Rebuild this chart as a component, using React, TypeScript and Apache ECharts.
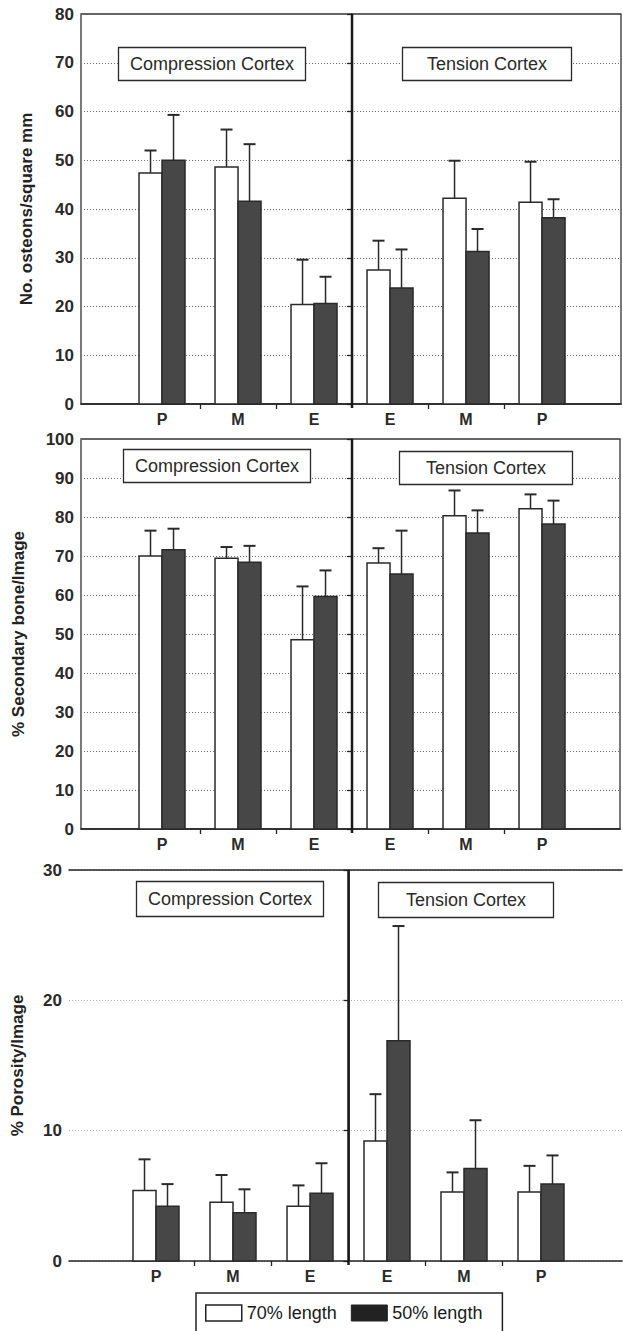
import React, { useEffect, useRef } from "react";
import * as echarts from "echarts";

// Category slots (axis units) and their labels
const sitePositions = [-2.5, -1.5, -0.5, 0.5, 1.5, 2.5];
const siteLabels = ["P", "M", "E", "E", "M", "P"];
const regionTitles = ["Compression Cortex", "Tension Cortex"];
const legendNames = ["70% length", "50% length"];

// Panel 1: No. osteons / square mm
const osteons70 = [47.4, 48.6, 20.4, 27.5, 42.2, 41.4];
const osteons70Sd = [4.6, 7.7, 9.2, 6.0, 7.7, 8.3];
const osteons50 = [50.0, 41.6, 20.6, 23.8, 31.3, 38.2];
const osteons50Sd = [9.3, 11.7, 5.5, 7.9, 4.6, 3.8];

// Panel 2: % Secondary bone / Image
const secondary70 = [70.0, 69.4, 48.5, 68.2, 80.3, 82.1];
const secondary70Sd = [6.5, 2.9, 13.7, 3.8, 6.5, 3.7];
const secondary50 = [71.6, 68.4, 59.6, 65.4, 75.9, 78.2];
const secondary50Sd = [5.4, 4.2, 6.7, 11.1, 5.8, 6.0];

// Panel 3: % Porosity / Image
const porosity70 = [5.4, 4.5, 4.2, 9.2, 5.3, 5.3];
const porosity70Sd = [2.4, 2.1, 1.6, 3.6, 1.5, 2.0];
const porosity50 = [4.2, 3.7, 5.2, 16.9, 7.1, 5.9];
const porosity50Sd = [1.7, 1.8, 2.3, 8.8, 3.7, 2.2];

const yNames = ["No. osteons/square mm", "% Secondary bone/Image", "% Porosity/Image"];
const yMaxes = [80, 100, 30];

const FONT = "'Liberation Sans', Arial, Helvetica, sans-serif";
const BAR_W = 23;
const CAP = 6;

function makeBarSeries(
  gridIdx: number,
  xAxisIndex: number,
  name: string,
  means: number[],
  sds: number[],
  side: number,
  fill: string,
  legendColor: string
) {
  const data = sitePositions.map((x, i) => [x, means[i], means[i] + sds[i]]);
  return {
    type: "custom",
    name,
    xAxisIndex,
    yAxisIndex: gridIdx,
    data,
    encode: { x: 0, y: 1 },
    itemStyle: { color: legendColor, borderColor: "#222", borderWidth: 1.5 },
    z: 3,
    renderItem: (_params: any, api: any) => {
      const x = api.value(0);
      const y = api.value(1);
      const e = api.value(2);
      const p0 = api.coord([x, 0]);
      const p1 = api.coord([x, y]);
      const p2 = api.coord([x, e]);
      const left = side < 0 ? p0[0] - BAR_W : p0[0];
      const cx = left + BAR_W / 2;
      return {
        type: "group",
        children: [
          {
            type: "rect",
            shape: { x: left, y: p1[1], width: BAR_W, height: p0[1] - p1[1] },
            style: { fill, stroke: "#2a2a2a", lineWidth: 1.5 },
          },
          {
            type: "line",
            shape: { x1: cx, y1: p1[1], x2: cx, y2: p2[1] },
            style: { stroke: "#2a2a2a", lineWidth: 1.5 },
          },
          {
            type: "line",
            shape: { x1: cx - CAP, y1: p2[1], x2: cx + CAP, y2: p2[1] },
            style: { stroke: "#2a2a2a", lineWidth: 2 },
          },
        ],
      };
    },
  };
}

function makeDivider(gridIdx: number, xAxisIndex: number, yMax: number) {
  return {
    type: "custom",
    name: "divider",
    xAxisIndex,
    yAxisIndex: gridIdx,
    data: [[0, yMax]],
    encode: { x: 0, y: 1 },
    silent: true,
    z: 4,
    renderItem: (_params: any, api: any) => {
      const b = api.coord([api.value(0), 0]);
      const t = api.coord([api.value(0), api.value(1)]);
      return {
        type: "line",
        shape: { x1: b[0], y1: b[1] + 4, x2: t[0], y2: t[1] },
        style: { stroke: "#1a1a1a", lineWidth: 2.5 },
      };
    },
  };
}

export default function App() {
  const ref = useRef<HTMLDivElement>(null);

  useEffect(() => {
    document.body.style.margin = "0";
    if (!ref.current) return;
    const chart = echarts.init(ref.current, null, { renderer: "svg" });

    const grids = [
      { left: 81, top: 14, width: 540, height: 390, xmin: -3.566, xmax: 3.539, border: true },
      { left: 81, top: 439, width: 539, height: 390, xmin: -3.566, xmax: 3.526, border: true },
      { left: 69, top: 870, width: 553, height: 391, xmin: -3.63, xmax: 3.552, border: false },
    ];
    const nameGaps = [46, 54, 43];
    const gridColors = ["#6a6a6a", "#6a6a6a", "#b0b0b0"];

    const xAxes: any[] = [];
    const yAxes: any[] = [];
    const gridOpts: any[] = [];
    grids.forEach((g, i) => {
      gridOpts.push({
        left: g.left,
        top: g.top,
        width: g.width,
        height: g.height,
        show: g.border,
        borderColor: "#333",
        borderWidth: 1.3,
        backgroundColor: "transparent",
      });
      xAxes.push({
        type: "value",
        gridIndex: i,
        min: g.xmin,
        max: g.xmax,
        position: "bottom",
        splitLine: { show: false },
        axisLine: { show: true, onZero: false, lineStyle: { color: "#222", width: 1.5 } },
        axisTick: {
          show: true,
          customValues: [-2, -1, 1, 2],
          length: 5,
          lineStyle: { color: "#222", width: 1.3 },
        },
        axisLabel: {
          show: true,
          customValues: sitePositions,
          formatter: (v: number) => {
            const idx = sitePositions.findIndex((p) => Math.abs(p - v) < 1e-6);
            return idx >= 0 ? siteLabels[idx] : "";
          },
          margin: 7,
          fontSize: 16,
          fontWeight: "bold",
          color: "#2a2a2a",
          fontFamily: FONT,
        },
      });
      yAxes.push({
        type: "value",
        gridIndex: i,
        min: 0,
        max: yMaxes[i],
        interval: 10,
        name: yNames[i],
        nameLocation: "middle",
        nameRotate: 90,
        nameGap: nameGaps[i],
        nameTextStyle: { fontSize: 17, fontWeight: "bold", color: "#222", fontFamily: FONT },
        axisLine: { show: true, lineStyle: { color: "#222", width: 1.5 } },
        axisTick: { show: true, length: 5, lineStyle: { color: "#222", width: 1.3 } },
        axisLabel: {
          margin: 7,
          fontSize: 17,
          fontWeight: "bold",
          color: "#2a2a2a",
          fontFamily: FONT,
        },
        splitLine: {
          show: true,
          lineStyle: { color: gridColors[i], width: 1, type: [1, 2] },
        },
      });
    });
    // top border for the last panel (no right border there)
    xAxes.push({
      type: "value",
      gridIndex: 2,
      min: grids[2].xmin,
      max: grids[2].xmax,
      position: "top",
      splitLine: { show: false },
      axisLine: { show: true, onZero: false, lineStyle: { color: "#222", width: 1.5 } },
      axisTick: { show: false },
      axisLabel: { show: false },
    });

    const panels = [
      [osteons70, osteons70Sd, osteons50, osteons50Sd],
      [secondary70, secondary70Sd, secondary50, secondary50Sd],
      [porosity70, porosity70Sd, porosity50, porosity50Sd],
    ];
    const series: any[] = [];
    panels.forEach((p, i) => {
      series.push(makeBarSeries(i, i, legendNames[0], p[0], p[1], -1, "#ffffff", "#ffffff"));
      series.push(makeBarSeries(i, i, legendNames[1], p[2], p[3], 1, "#474747", "#222222"));
      series.push(makeDivider(i, i, yMaxes[i]));
    });

    const boxes = [
      { text: regionTitles[0], left: 118, top: 47, pad: [7, 12] },
      { text: regionTitles[1], left: 402, top: 47, pad: [7, 25] },
      { text: regionTitles[0], left: 123, top: 449, pad: [7, 12] },
      { text: regionTitles[1], left: 399, top: 451, pad: [7, 27] },
      { text: regionTitles[0], left: 136, top: 881, pad: [8, 12] },
      { text: regionTitles[1], left: 378, top: 882, pad: [8, 28] },
    ];
    const titles = boxes.map((b) => ({
      text: b.text,
      left: b.left,
      top: b.top,
      padding: b.pad,
      borderColor: "#2a2a2a",
      borderWidth: 1.3,
      backgroundColor: "#ffffff",
      textStyle: {
        fontSize: 18,
        fontWeight: "normal",
        color: "#2a2a2a",
        fontFamily: FONT,
        lineHeight: 20,
      },
    }));

    chart.setOption({
      animation: false,
      backgroundColor: "#ffffff",
      title: titles,
      grid: gridOpts,
      xAxis: xAxes,
      yAxis: yAxes,
      legend: {
        left: 196,
        top: 1293,
        orient: "horizontal",
        selectedMode: false,
        padding: [11, 20, 16, 9],
        itemWidth: 36,
        itemHeight: 16,
        itemGap: 14,
        borderColor: "#222",
        borderWidth: 1.5,
        textStyle: { fontSize: 18, color: "#1a1a1a", fontFamily: FONT },
        data: [
          {
            name: legendNames[0],
            icon: "rect",
            itemStyle: { color: "#ffffff", borderColor: "#222", borderWidth: 1.5 },
          },
          {
            name: legendNames[1],
            icon: "rect",
            itemStyle: { color: "#222222", borderColor: "#222", borderWidth: 1 },
          },
        ],
      },
      series,
    });

    return () => {
      chart.dispose();
    };
  }, []);

  return <div ref={ref} style={{ width: 623, height: 1331 }} />;
}
